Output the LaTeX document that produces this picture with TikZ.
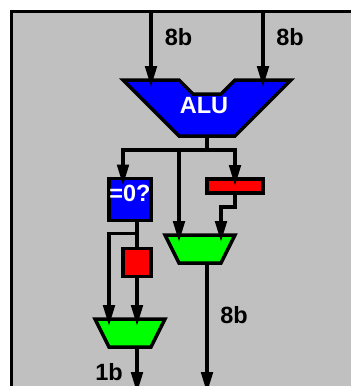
\documentclass[tikz,border=0pt]{standalone}
\usepackage{fontspec}
\setmainfont{Liberation Sans}
\usetikzlibrary{arrows.meta}
\begin{document}
\begin{tikzpicture}[
		x=1pt, y=-1pt,
		font=\fontsize{23.5}{24}\selectfont\bfseries,
		line width=3.5pt,
		every node/.style = {inner sep=0pt, outer sep=0pt},
		wire/.style={draw=black, -{Triangle[length=21pt,width=11.5pt]}, shorten >=-7pt},
		plain/.style={draw=black},
		block/.style={shape=rectangle, draw=black, minimum width=#1},
		muxbox/.style={minimum width=70pt, minimum height=28pt},
		muxpoly/.style={draw=black, fill=green},
		reg/.style={block=#1, fill=red},
		lbl/.style={text=black},
		lblw/.style={text=white},
		]
		\useasboundingbox (0,0) rectangle (351,386);
		
		% frame
		\draw[fill={rgb,255:red,192;green,192;blue,192}] (11.5,11.5) rectangle (365,387.6);
		\coordinate (inA) at (151,11.5);
		\coordinate (inB) at (263,11.5);
		\coordinate (outA) at (137,393);
		\coordinate (outB) at (207,393);
		
		% blocks
		\node[minimum width=168pt, minimum height=56pt] (alu) at (207,108) {};
		\draw[fill=blue] (alu.north west) -- ++(56,0) -- ++(14,14) -- ++(28,0) -- ++(14,-14)
			-- (alu.north east) -- ++(-56,56) -- ++(-56,0) -- cycle;
		\node[block=42pt, minimum height=42pt, fill=blue] (zero) at (130,199.5) {};
		\node[reg=56pt, minimum height=14pt] (bar) at (235,186) {};
		\node[reg=28pt, minimum height=28pt] (flop) at (137,262.5) {};
		\node[muxbox] (muxR) at (200,249) {};
		\draw[muxpoly] (muxR.north west) -- (muxR.north east) -- ++(-14,28) -- ++(-42,0) -- cycle;
		\node[muxbox] (muxL) at (130,333) {};
		\draw[muxpoly] (muxL.north west) -- (muxL.north east) -- ++(-14,28) -- ++(-42,0) -- cycle;
		
		% wires
		\draw[wire] (inA) -- ([xshift=-56pt]alu.north);
		\draw[wire] (inB) -- ([xshift=56pt]alu.north);
		\draw[plain] (alu.south) -- ++(0,14) coordinate (split);
		\draw[wire] (split) -| ([xshift=-7pt]zero.north);
		\draw[wire] (split) -| (bar.north);
		\draw[wire] (split -| muxR.north) ++(-21,0) -- ([xshift=-21pt]muxR.north);
		\draw[wire] (bar.south) -- ++(0,14) -| ([xshift=21pt]muxR.north);
		\draw[wire, shorten >=0pt] (muxR.south) ++(7,0) -- (outB);
		\draw[plain] ([xshift=7pt]zero.south) -- (flop.north);
		\draw[wire] ([yshift=15pt]flop.north) -| ([xshift=-21pt]muxL.north);
		\draw[wire] (flop.south) -- ([xshift=7pt]muxL.north);
		\draw[wire, shorten >=0pt] (muxL.south) ++(7,0) -- (outA);
		
		% labels
		\node[lblw] (aluText) at (204,106) {ALU};
		\node[lblw] (zeroText) at (130,193) {=0?};
		\node[lbl] (widthA) at (178.5,37.5) {8b};
		\node[lbl] (widthB) at (290,37.5) {8b};
		\node[lbl] (widthC) at (234,315.5) {8b};
		\node[lbl] (widthD) at (109,372) {1b};
		\end{tikzpicture}
\end{document}
